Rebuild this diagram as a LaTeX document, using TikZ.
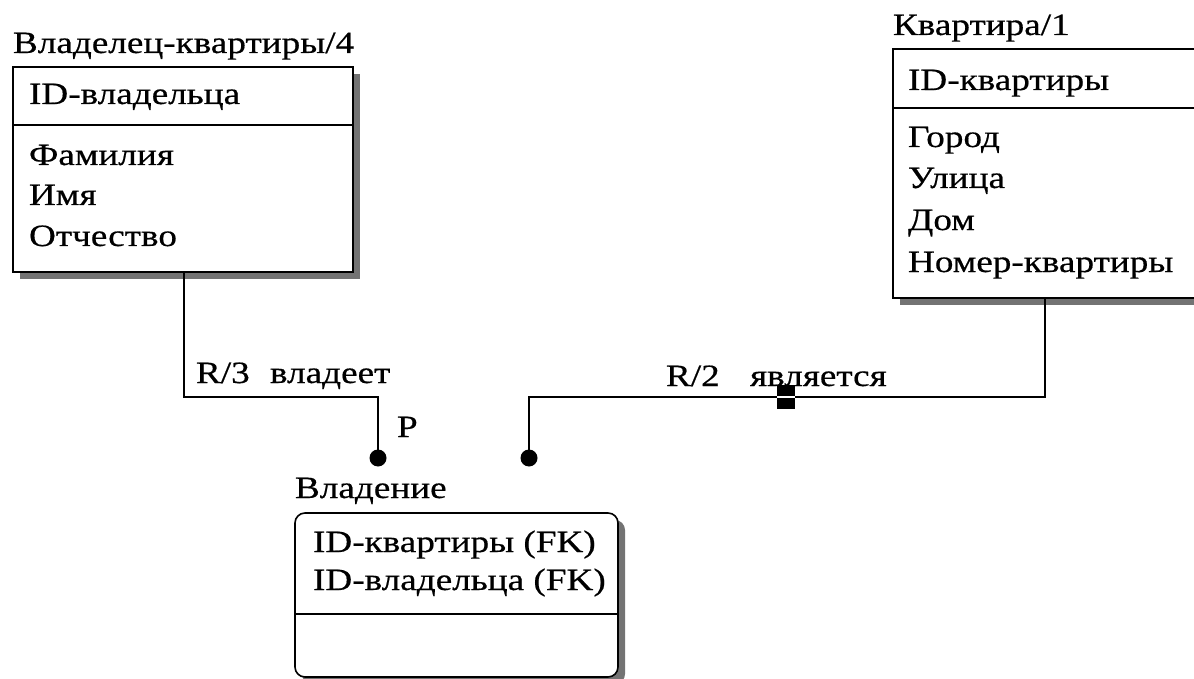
\documentclass[tikz,border=0pt]{standalone}
\usepackage{fontspec}
\setmainfont[FakeStretch=1.2,FakeBold=0.5]{Liberation Serif}
\usetikzlibrary{shadows}
\begin{document}
\begin{tikzpicture}[x=1pt,y=-1pt,
  every node/.style={font=\fontsize{31}{41}\selectfont, inner sep=0pt, outer sep=0pt},
  ebox/.style={draw, line width=1.6pt, fill=white,
    drop shadow={shadow xshift=7pt, shadow yshift=-7pt, fill=black!55, opacity=1}},
  lbl/.style={anchor=base west},
  conn/.style={line width=1.6pt},
  dotn/.style={circle, fill=black, minimum size=17pt}]
\useasboundingbox (0,0) rectangle (1194,679);
\clip (0,0) rectangle (1194,679);

% Entity: Владелец-квартиры
\node[ebox, anchor=north west, minimum width=340pt, minimum height=205pt] (own) at (13,67) {};
\draw[conn] ([yshift=-58pt]own.north west) -- ([yshift=-58pt]own.north east);
\node[lbl] (ownT) at (13,53) {Владелец-квартиры/4};
\node[lbl] (ownK) at (29,104) {ID-владельца};
\node[lbl] (ownA1) at (29,165) {Фамилия};
\node[lbl] (ownA2) at (29,205) {Имя};
\node[lbl] (ownA3) at (29,246) {Отчество};

% Entity: Квартира
\node[ebox, anchor=north west, minimum width=330pt, minimum height=249pt] (kv) at (893,49) {};
\draw[conn] ([yshift=-59pt]kv.north west) -- ([yshift=-59pt]kv.north east);
\node[lbl] (kvT) at (893,35) {Квартира/1};
\node[lbl] (kvK) at (908,90) {ID-квартиры};
\node[lbl] (kvA1) at (908,147) {Город};
\node[lbl] (kvA2) at (908,188) {Улица};
\node[lbl] (kvA3) at (908,230) {Дом};
\node[lbl] (kvA4) at (908,272) {Номер-квартиры};

% Entity: Владение
\node[ebox, rounded corners=10pt, anchor=north west, minimum width=323pt, minimum height=164pt] (vl) at (295,513) {};
\draw[conn] ([yshift=-101pt]vl.north west) -- ([yshift=-101pt]vl.north east);
\node[lbl] (vlT) at (295,498) {Владение};
\node[lbl] (vlK1) at (313,552) {ID-квартиры (FK)};
\node[lbl] (vlK2) at (313,590) {ID-владельца (FK)};

% Relationship R/3
\node[dotn] (d1) at (378,458) {};
\coordinate (b1) at (378,397);
\draw[conn] ([xshift=171pt]own.south west) |- (b1) -- (d1.center);
\node[lbl] (r3) at (196,383) {R/3};
\node[lbl] (r3n) at (270,383) {владеет};
\node[lbl] (p) at (397,437) {P};

% Relationship R/2
\node[dotn] (d2) at (529,458) {};
\coordinate (b2) at (529,397);
\draw[conn] ([xshift=152pt]kv.south west) |- (b2) -- (d2.center);
\node[lbl] (r2) at (666,386) {R/2};
\node[lbl] (r2n) at (750,386) {является};
\node[fill=black, minimum width=18pt, minimum height=24pt] (sq) at (786,397) {};
\draw[white, line width=1.5pt] (sq.west) -- (sq.east);
\end{tikzpicture}
\end{document}
